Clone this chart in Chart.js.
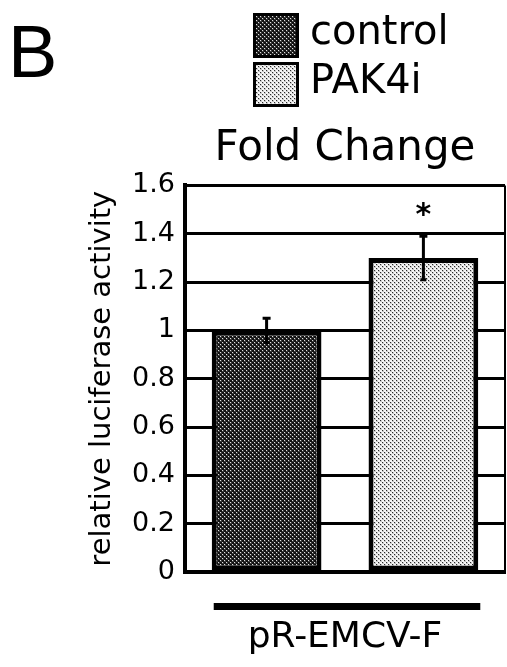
<!DOCTYPE html>
<html>
<head>
<meta charset="utf-8">
<script src="https://cdn.jsdelivr.net/npm/chart.js@4/dist/chart.umd.min.js"></script>
<style>
html,body{margin:0;padding:0;background:#fff;}
#wrap{width:507px;height:667px;position:relative;}
</style>
</head>
<body>
<div id="wrap"><canvas id="c" width="507" height="667"></canvas></div>
<script>
const categories = ["pR-EMCV-F"];
const seriesNames = ["control", "PAK4i"];
const controlValues = [1.0];
const pak4iValues = [1.3];
const controlErrors = [0.05];
const pak4iErrors = [0.09];
const significance = ["", "*"];
const yTicks = [0, 0.2, 0.4, 0.6, 0.8, 1, 1.2, 1.4, 1.6];
const panelLetter = "B";
const chartTitle = "Fold Change";
const yAxisTitle = "relative luciferase activity";

function makePattern(bg, dot, mid) {
  const c = document.createElement('canvas');
  c.width = 4; c.height = 4;
  const g = c.getContext('2d');
  g.fillStyle = bg; g.fillRect(0, 0, 4, 4);
  g.fillStyle = mid;
  g.fillRect(0, 0, 2, 2);
  g.fillRect(2, 2, 2, 2);
  g.fillStyle = dot;
  g.fillRect(0, 0, 1, 1);
  g.fillRect(2, 2, 1, 1);
  return g.createPattern(c, 'repeat');
}
const ctx0 = document.getElementById('c').getContext('2d');
const darkPat = makePattern('#111111', '#e0e0e0', '#3a3a3a');
const lightPat = makePattern('#f6f6f6', '#2a2a2a', '#c8c8c8');

const errorSets = [controlErrors, pak4iErrors];

const extras = {
  id: 'extras',
  afterDatasetsDraw(chart) {
    const ctx = chart.ctx;
    const y = chart.scales.y;
    ctx.save();
    chart.data.datasets.forEach((ds, di) => {
      const meta = chart.getDatasetMeta(di);
      meta.data.forEach((bar, i) => {
        const v = ds.data[i], e = errorSets[di][i];
        const yt = y.getPixelForValue(v + e), yb = y.getPixelForValue(v - e);
        ctx.strokeStyle = '#000';
        ctx.lineWidth = 3;
        ctx.beginPath();
        ctx.moveTo(bar.x, yt); ctx.lineTo(bar.x, yb);
        ctx.moveTo(bar.x - 4, yt); ctx.lineTo(bar.x + 4, yt);
        ctx.moveTo(bar.x - 3, yb); ctx.lineTo(bar.x + 3, yb);
        ctx.stroke();
        if (significance[di]) {
          ctx.fillStyle = '#000';
          ctx.font = 'bold 30px "DejaVu Sans"';
          ctx.textAlign = 'center';
          ctx.textBaseline = 'middle';
          ctx.fillText(significance[di], bar.x, yt - 20);
        }
      });
    });
    const m0 = chart.getDatasetMeta(0).data[0];
    const m1 = chart.getDatasetMeta(1).data[0];
    const x1 = m0.x - m0.width / 2, x2 = m1.x + m1.width / 2;
    ctx.fillStyle = '#000';
    ctx.fillRect(x1 + 2, chart.chartArea.bottom + 31, x2 - x1, 7);
    ctx.font = '74px "Liberation Sans"';
    ctx.textAlign = 'left';
    ctx.textBaseline = 'alphabetic';
    ctx.fillText(panelLetter, 8, 77);
    const boxes = [14, 63];
    chart.data.datasets.forEach((ds, di) => {
      const by = boxes[di];
      ctx.fillStyle = ds.backgroundColor;
      ctx.fillRect(254, by, 44, 43);
      ctx.strokeStyle = '#000';
      ctx.lineWidth = 3;
      ctx.strokeRect(254.5, by + 0.5, 43, 42);
      ctx.fillStyle = '#000';
      ctx.font = '40px "DejaVu Sans"';
      ctx.textBaseline = 'middle';
      ctx.fillText(ds.label, 310, by + 20);
    });
    ctx.restore();
  }
};

new Chart(ctx0, {
  type: 'bar',
  data: {
    labels: categories,
    datasets: [
      { label: seriesNames[0], data: controlValues, backgroundColor: darkPat, borderColor: '#000', borderWidth: 5, borderSkipped: false },
      { label: seriesNames[1], data: pak4iValues, backgroundColor: lightPat, borderColor: '#000', borderWidth: 5, borderSkipped: false }
    ]
  },
  options: {
    responsive: false,
    animation: false,
    devicePixelRatio: 1,
    layout: { padding: { top: 124, right: 2, left: 0, bottom: 0 } },
    datasets: { bar: { categoryPercentage: 0.98, barPercentage: 0.7 } },
    plugins: {
      legend: { display: false },
      tooltip: { enabled: false },
      title: {
        display: true, text: chartTitle, fullSize: false, color: '#000',
        font: { family: 'DejaVu Sans', size: 42, weight: 'normal', lineHeight: 1.2 },
        padding: { top: 0, bottom: 11 }
      }
    },
    scales: {
      x: {
        afterFit(s) { s.height = 95; },
        grid: { display: true, color: '#000', lineWidth: 2, drawTicks: false, offset: true },
        border: { display: true, color: '#000', width: 4 },
        ticks: { color: '#000', padding: 44, font: { family: 'DejaVu Sans', size: 36 } }
      },
      y: {
        min: 0, max: 1.6,
        afterFit(s) { s.width = 185; },
        afterBuildTicks(s) { s.ticks = yTicks.map(v => ({ value: v })); },
        grid: { color: '#000', lineWidth: 3, drawTicks: false },
        border: { display: true, color: '#000', width: 4 },
        ticks: { color: '#000', padding: 10, font: { family: 'DejaVu Sans', size: 27 }, callback: v => String(v) },
        title: { display: true, text: yAxisTitle, color: '#000', padding: { top: 85 }, font: { family: 'DejaVu Sans', size: 29 } }
      }
    }
  },
  plugins: [extras]
});
</script>
</body>
</html>
